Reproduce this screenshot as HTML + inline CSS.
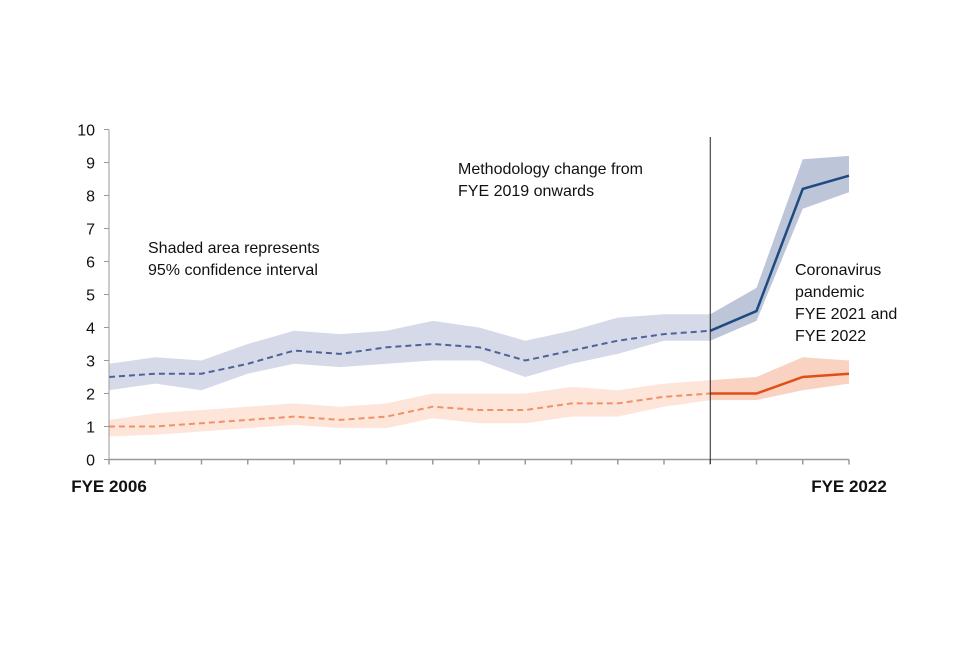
<!DOCTYPE html>
<html><head><meta charset="utf-8"><style>
body{margin:0;background:#fff;}
svg text{font-family:"Liberation Sans",sans-serif;}
</style></head><body>
<svg id="chart" width="960" height="640" xmlns="http://www.w3.org/2000/svg">
<g id="bands"></g><g id="lines"></g><g id="axes"></g>
<text x="148" y="253" font-size="16" fill="#111">Shaded area represents</text>
<text x="148" y="275" font-size="16" fill="#111">95% confidence interval</text>
<text x="458" y="174" font-size="16" fill="#111">Methodology change from</text>
<text x="458" y="196" font-size="16" fill="#111">FYE 2019 onwards</text>
<text x="795" y="275" font-size="16" fill="#111">Coronavirus</text>
<text x="795" y="297" font-size="16" fill="#111">pandemic</text>
<text x="795" y="319" font-size="16" fill="#111">FYE 2021 and</text>
<text x="795" y="341" font-size="16" fill="#111">FYE 2022</text>
</svg>
<script>
const years=[2006,2007,2008,2009,2010,2011,2012,2013,2014,2015,2016,2017,2018,2019,2020,2021,2022];
const blue=[2.5,2.6,2.6,2.9,3.3,3.2,3.4,3.5,3.4,3.0,3.3,3.6,3.8,3.9,4.5,8.2,8.6];
const blueUpper=[2.9,3.1,3.0,3.5,3.9,3.8,3.9,4.2,4.0,3.6,3.9,4.3,4.4,4.4,5.2,9.1,9.2];
const blueLower=[2.1,2.3,2.1,2.6,2.9,2.8,2.9,3.0,3.0,2.5,2.9,3.2,3.6,3.6,4.2,7.6,8.1];
const orange=[1.0,1.0,1.1,1.2,1.3,1.2,1.3,1.6,1.5,1.5,1.7,1.7,1.9,2.0,2.0,2.5,2.6];
const orangeUpper=[1.2,1.4,1.5,1.6,1.7,1.6,1.7,2.0,2.0,2.0,2.2,2.1,2.3,2.4,2.5,3.1,3.0];
const orangeLower=[0.7,0.75,0.85,0.95,1.05,0.95,0.95,1.25,1.1,1.1,1.3,1.3,1.6,1.8,1.8,2.1,2.3];
const yTicks=[0,1,2,3,4,5,6,7,8,9,10];
const breakYear=2019;
const NS='http://www.w3.org/2000/svg';
const X0=109,X1=849,Y0=459.5,Y1=129.5;
const x=i=>X0+(X1-X0)*i/(years.length-1);
const y=v=>Y0-(Y0-Y1)*v/10;
const bi=years.indexOf(breakYear);
function mk(tag,attrs,parent){const e=document.createElementNS(NS,tag);for(const k in attrs)e.setAttribute(k,attrs[k]);document.getElementById(parent).appendChild(e);return e;}
function band(up,lo,a,b,fill,name){
  let d='';for(let i=a;i<=b;i++)d+=(i==a?'M':'L')+x(i)+','+y(up[i]);
  for(let i=b;i>=a;i--)d+='L'+x(i)+','+y(lo[i]);
  const e=mk('path',{d:d+'Z',fill:fill},'bands');
  
  
}
function line(v,a,b,stroke,dash,name){
  let d='';for(let i=a;i<=b;i++)d+=(i==a?'M':'L')+x(i)+','+y(v[i]);
  const e=mk('path',{d:d,fill:'none',stroke:stroke,'stroke-width':dash?2:2.5,'stroke-dasharray':dash?'6,4':'none'},'lines');
  
  
}
const last=years.length-1;
band(blueUpper,blueLower,0,bi,'#d6dae8','blue-ci-band-old');
band(blueUpper,blueLower,bi,last,'#bdc6d9','blue-ci-band-new');
band(orangeUpper,orangeLower,0,bi,'#fde5da','orange-ci-band-old');
band(orangeUpper,orangeLower,bi,last,'#f9d2c1','orange-ci-band-new');
line(blue,0,bi,'#4d6399',true,'blue-line-dashed');
line(blue,bi,last,'#1f4a80',false,'blue-line-solid');
line(orange,0,bi,'#ef9266',true,'orange-line-dashed');
line(orange,bi,last,'#df4f18',false,'orange-line-solid');
// axes
let e=mk('line',{x1:X0,y1:Y1,x2:X0,y2:Y0,stroke:'#999','stroke-width':1},'axes');

e=mk('line',{x1:X0,y1:Y0,x2:X1,y2:Y0,stroke:'#999','stroke-width':1.5},'axes');

yTicks.forEach(t=>{
  const tk=mk('line',{x1:X0-5,y1:y(t),x2:X0,y2:y(t),stroke:'#999'},'axes');
  
  const tx=mk('text',{x:X0-14,y:y(t)+6,'font-size':16,'text-anchor':'end',fill:'#111'},'axes');
  tx.textContent=t;
  
});
years.forEach((yr,i)=>{
  const tk=mk('line',{x1:x(i),y1:Y0,x2:x(i),y2:Y0+5,stroke:'#999','stroke-width':1.5},'axes');
  
});
e=mk('line',{x1:x(bi),y1:137,x2:x(bi),y2:464,stroke:'#222','stroke-width':1},'axes');

[0,last].forEach(i=>{
  const tx=mk('text',{x:x(i),y:492,'font-size':17,'font-weight':'bold','text-anchor':'middle',fill:'#111'},'axes');
  tx.textContent='FYE '+years[i];
  
});
</script>
</body></html>
